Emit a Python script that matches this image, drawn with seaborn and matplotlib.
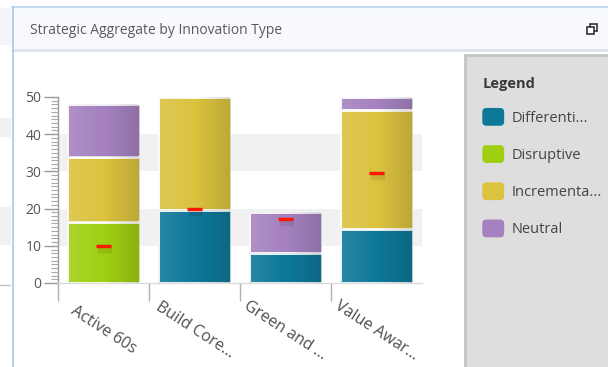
import numpy as np
import pandas as pd
import matplotlib
matplotlib.use("Agg")
import matplotlib.pyplot as plt
import matplotlib.patheffects as pe
import matplotlib.transforms as mtransforms
from matplotlib.patches import Rectangle, Patch, FancyBboxPatch
from matplotlib.legend_handler import HandlerPatch
from matplotlib.lines import Line2D
from matplotlib.ticker import MultipleLocator
import seaborn as sns

# data
categories = ["Active 60s", "Build Core...", "Green and ...", "Value Awar..."]
differentiating = [0, 19.5, 8, 14.5]
disruptive = [16.5, 0, 0, 0]
incremental = [17.5, 30.5, 0, 32.0]
neutral = [14.0, 0, 11.0, 3.5]
targets = [10, 20, 17.2, 29.7]

legend_labels = ["Differenti...", "Disruptive", "Incrementa...", "Neutral"]
colors = ["#0e7899", "#a0cf12", "#dbc23f", "#a582bf"]

sns.set_theme(style="ticks")
plt.rcParams["font.family"] = ["Open Sans", "DejaVu Sans"]

W, H = 608, 367
fig = plt.figure(figsize=(W / 100, H / 100), dpi=100)
fig.patch.set_facecolor("white")


def fx(px):
    return px / W


def fy(py):
    return 1 - py / H


def box(x0, y0, x1, y1, **kw):
    r = Rectangle((fx(x0), fy(y1)), (x1 - x0) / W, (y1 - y0) / H,
                  transform=fig.transFigure, **kw)
    fig.add_artist(r)
    return r


# window chrome
box(0, 8, 12, 45, fc="#f3f5f8", ec="none", zorder=0)
box(0, 118, 11, 137, fc="#f1f1f1", ec="none", zorder=0)
box(0, 207, 11, 245, fc="#f1f1f1", ec="none", zorder=0)
fig.add_artist(Line2D([0, fx(10)], [fy(285), fy(285)], color="#c0c0c0", lw=1))
box(12, 7, 609, 50, fc="#f7f9fc", ec="none", zorder=0)
fig.add_artist(Line2D([fx(12), 1], [fy(50), fy(50)], color="#dfe4ea", lw=2))
fig.add_artist(Line2D([fx(12), 1], [fy(7), fy(7)], color="#c6dbf3", lw=1.5))
fig.add_artist(Line2D([fx(12.5), fx(12.5)], [0, fy(7)], color="#a9c7ec", lw=1.2))
fig.text(fx(30), fy(31), "Strategic Aggregate by Innovation Type",
         fontsize=10, color="#5a5a5a", va="center", ha="left")
box(590, 24, 597, 31, fc="none", ec="#333333", lw=1.2, zorder=2)
box(587, 27, 594, 34, fc="white", ec="#333333", lw=1.2, zorder=3)

# legend panel
box(465, 55, 610, 370, fc="#dedede", ec="#c4c4c4", lw=2, zorder=0)

# chart
ax = fig.add_axes([fx(58), fy(283), (422 - 58) / W, (283 - 97) / H])
ax.set_facecolor("none")

bottom = np.zeros(len(categories))
for vals, col in zip([differentiating, disruptive, incremental, neutral], colors):
    sns.barplot(x=categories, y=vals, bottom=bottom.copy(), color=col,
                saturation=1, width=0.8, errorbar=None, edgecolor="white",
                linewidth=2, ax=ax, zorder=3)
    bottom += np.array(vals)

ax.set_xlim(-0.5, len(categories) - 0.5)
ax.set_ylim(0, 50)

# rounded corners + left-to-right shading on each segment
ax_w = (422 - 58)
ax_h = (283 - 97)
px_x = ax_w / len(categories)
px_y = ax_h / 50
shade = np.zeros((1, 64, 4))
shade[0, :32, :3] = 1.0
shade[0, :32, 3] = np.linspace(0.12, 0.0, 32)
shade[0, 32:, 3] = np.linspace(0.0, 0.14, 32)
for p in list(ax.patches):
    h = p.get_height()
    if h <= 0:
        p.set_visible(False)
        continue
    x0, y0, w = p.get_x(), p.get_y(), p.get_width()
    clip = FancyBboxPatch((x0, y0), w, h,
                          boxstyle=f"round,pad=0,rounding_size={3.5 / px_x}",
                          mutation_aspect=px_x / px_y, transform=ax.transData,
                          fc="none", ec="none")
    ax.add_patch(clip)
    p.set_clip_path(clip)
    im = ax.imshow(shade, extent=(x0, x0 + w, y0, y0 + h), aspect="auto",
                   interpolation="bilinear", zorder=3.5)
    im.set_clip_path(clip)

ax.set_xlim(-0.5, len(categories) - 0.5)
ax.set_ylim(0, 50)

# target markers
sns.scatterplot(x=np.arange(len(categories)), y=targets, marker="_", s=105,
                linewidth=2.4, color="#ff1500", ax=ax, zorder=6, legend=False)
ax.collections[-1].set_path_effects([
    pe.SimpleLineShadow(offset=(1, -2.5), shadow_color="black", alpha=0.09,
                        linewidth=6),
    pe.Normal()])

# bands
for lo, hi in [(10, 20), (30, 40)]:
    ax.axhspan(lo, hi, color="#f1f1f1", zorder=0, lw=0)

# axes styling
ax.set_xlabel("")
ax.set_ylabel("")
ax.set_yticks(range(0, 51, 10))
ax.yaxis.set_minor_locator(MultipleLocator(1))
ax.tick_params(axis="y", which="major", length=10, width=1, color="#9a9a9a",
               labelsize=10, labelcolor="#555555", pad=2, left=True)
ax.tick_params(axis="y", which="minor", length=5, width=0.8, color="#a8a8a8",
               left=True)
ax.set_xticks(np.arange(len(categories)) - 0.5)
ax.set_xticklabels([])
ax.tick_params(axis="x", which="major", length=13, width=1, color="#b0b0b0",
               bottom=True)
ax.tick_params(axis="x", which="minor", bottom=False)
for side in ["top", "right"]:
    ax.spines[side].set_visible(False)
ax.spines["left"].set_color("#9a9a9a")
ax.spines["left"].set_linewidth(1)
ax.spines["bottom"].set_color("#dcdcdc")
ax.spines["bottom"].set_linewidth(1)

trans = mtransforms.blended_transform_factory(ax.transData, ax.transAxes)
for i, lab in enumerate(categories):
    ax.text(i, -0.255, lab, transform=trans, rotation=-33,
            rotation_mode="anchor", ha="center", va="center",
            fontsize=11.5, color="#505050")


# legend
class RoundHandler(HandlerPatch):
    def create_artists(self, legend, orig_handle, xdescent, ydescent, width,
                       height, fontsize, trans):
        p = FancyBboxPatch((-xdescent, -ydescent), width, height,
                           boxstyle="round,pad=0,rounding_size=3",
                           fc=orig_handle.get_facecolor(), ec="none",
                           transform=trans)
        return [p]


handles = [Patch(facecolor=c) for c in colors]
leg = fig.legend(handles, legend_labels, loc="upper left",
                 bbox_to_anchor=(fx(475), fy(70)), frameon=False,
                 title="Legend", alignment="left", fontsize=10.5,
                 title_fontproperties={"weight": "bold", "size": 10.5},
                 handlelength=1.5, handleheight=1.5, labelspacing=1.33,
                 handletextpad=0.5, borderpad=0, labelcolor="#444444",
                 handler_map={Patch: RoundHandler()})
leg.get_title().set_color("#3a3a3a")
leg._legend_box.sep = 12

fig.savefig("out.png", dpi=100)
